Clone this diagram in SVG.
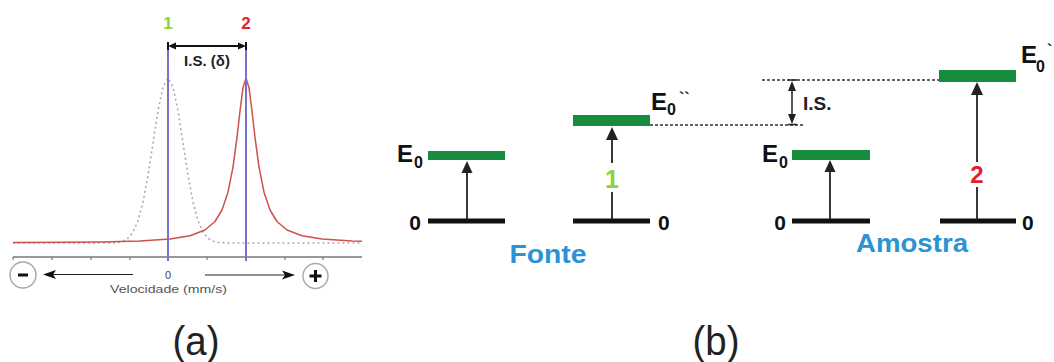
<svg xmlns="http://www.w3.org/2000/svg" width="1054" height="362" viewBox="0 0 1054 362">
<style>
.b{font-family:"Liberation Sans",Arial,sans-serif;font-weight:bold}
.n{font-family:"Liberation Sans",Arial,sans-serif}
.green{fill:#178c3e}
.gnd{stroke:#111;stroke-width:5}
.ar{stroke:#222;stroke-width:1.8;fill:none}
.ah{fill:#222}
.dot{stroke:#333;stroke-width:1.5;stroke-dasharray:3 2;fill:none}
.blue{stroke:#7474cf;stroke-width:2}
.lbl{font-size:21px;fill:#111}
.E{font-size:24px;fill:#111}
.sub{font-size:16px;fill:#111}
.cap{font-size:26px;fill:#2b93d4}
</style>
<rect width="1054" height="362" fill="#fff"/>

<g id="panel-a">
  <g id="axis">
    <line x1="13" y1="257" x2="362" y2="257" stroke="#777" stroke-width="1.5"/>
    <path d="M13 257v3M52 257v3M91 257v3M130 257v3M207 257v3M285 257v3M323 257v3" stroke="#777" stroke-width="1.2"/>
  </g>
  <polyline id="source-line" fill="none" stroke="#aaa" stroke-width="1.6" stroke-dasharray="2 3" stroke-linejoin="round"
    points="13,243 108,243 118,242.4 123,241.2 128,238.3 133,232.2 138,220.7 143,201.9 148,175.2 153,143 158,110.8 163,87 168,78 173,87 178,110.8 183,143 188,175.2 193,201.9 198,220.7 203,232.2 208,238.3 213,241.2 218,242.4 228,243 362,243"/>
  <polyline id="sample-line" fill="none" stroke="#d0504a" stroke-width="1.5" stroke-linejoin="round"
    points="13,242.6 60,242.3 100,241.9 140,240.9 170,239 190,235.8 205,230 215,221.5 222,210 228,192.2 233,167.1 237,137.4 240,111 243,87.7 246,78 249,87.7 252,111 255,137.4 259,167.1 264,192.2 270,210 277,221.5 287,230 302,235.8 322,239 352,240.9 362,241.3"/>
  <line class="blue" x1="168" y1="45" x2="168" y2="261"/>
  <line class="blue" x1="246" y1="45" x2="246" y2="261"/>
  <g id="is-dim">
    <line x1="170" y1="46" x2="244" y2="46" stroke="#111" stroke-width="2"/>
    <path d="M168 46l8-3.5v7zM246 46l-8-3.5v7z" fill="#111"/>
    <path d="M168 42v8M246 42v8" stroke="#111" stroke-width="2"/>
    <text class="b" x="207" y="66" font-size="15" fill="#222" text-anchor="middle">I.S. (δ)</text>
  </g>
  <text class="b" x="168" y="29" font-size="17" fill="#8fd23e" text-anchor="middle">1</text>
  <text class="b" x="246" y="29" font-size="17" fill="#e0202a" text-anchor="middle">2</text>
  <g id="minus">
    <circle cx="23" cy="275" r="13" fill="#fff" stroke="#aaa" stroke-width="1.5"/>
    <rect x="18" y="273.5" width="10" height="3" fill="#111"/>
  </g>
  <g id="plus">
    <circle cx="315.5" cy="276" r="12.5" fill="#fff" stroke="#aaa" stroke-width="1.5"/>
    <path d="M309.5 276h12M315.5 270v12" stroke="#111" stroke-width="3"/>
  </g>
  <line x1="52" y1="274.5" x2="133" y2="274.5" stroke="#222" stroke-width="1.2"/>
  <path d="M43 274.5l13-4.5-3 4.5 3 4.5z" fill="#111"/>
  <line x1="205" y1="275" x2="286" y2="275" stroke="#222" stroke-width="1.2"/>
  <path d="M295 275l-13-4.5 3 4.5-3 4.5z" fill="#111"/>
  <text class="n" x="168" y="279" font-size="11" fill="#444" text-anchor="middle">0</text>
  <text class="n" x="110" y="293" font-size="10" fill="#555" textLength="117" lengthAdjust="spacingAndGlyphs">Velocidade (mm/s)</text>
  <text class="n" x="196" y="355" font-size="40" fill="#222" text-anchor="middle" textLength="47" lengthAdjust="spacingAndGlyphs">(a)</text>
</g>

<g id="panel-b">
  <g id="fonte-left">
    <rect class="green" x="428" y="151" width="77" height="9"/>
    <text class="b E" x="397" y="162">E</text>
    <text class="b sub" x="414" y="168">0</text>
    <line class="gnd" x1="428" y1="221" x2="505" y2="221"/>
    <text class="b lbl" x="421" y="230" text-anchor="end">0</text>
    <line class="ar" x1="467" y1="219" x2="467" y2="171"/>
    <path class="ah" d="M467 161l5.5 12h-11z"/>
  </g>
  <g id="fonte-right">
    <rect class="green" x="573" y="115" width="77" height="11"/>
    <text class="b E" x="651" y="110">E</text>
    <text class="b sub" x="667" y="115">0</text>
    <text class="b sub" x="679" y="104">``</text>
    <line class="gnd" x1="573" y1="221" x2="650" y2="221"/>
    <text class="b lbl" x="658" y="230">0</text>
    <line class="ar" x1="612" y1="138" x2="612" y2="163"/>
    <line class="ar" x1="612" y1="192" x2="612" y2="219"/>
    <path class="ah" d="M612 127l6 13h-12z"/>
    <text class="b" x="612" y="188" font-size="25" fill="#8fd23e" text-anchor="middle">1</text>
  </g>
  <text class="b cap" x="548" y="263" text-anchor="middle" textLength="77" lengthAdjust="spacingAndGlyphs">Fonte</text>

  <g id="connectors">
    <line class="dot" x1="650" y1="125" x2="805" y2="125"/>
    <line class="dot" x1="762" y1="80" x2="940" y2="80"/>
    <line x1="792" y1="84" x2="792" y2="121" stroke="#222" stroke-width="1.5"/>
    <path d="M792 81l4 10h-8zM792 124l4-10h-8z" fill="#222"/>
    <path d="M788 80h9M788 124.5h9" stroke="#222" stroke-width="1.5"/>
    <text class="b" x="803" y="110" font-size="19" fill="#222">I.S.</text>
  </g>

  <g id="amostra-left">
    <rect class="green" x="792" y="150" width="78" height="10"/>
    <text class="b E" x="762" y="162">E</text>
    <text class="b sub" x="779" y="168">0</text>
    <line class="gnd" x1="792" y1="221" x2="870" y2="221"/>
    <text class="b lbl" x="786" y="230" text-anchor="end">0</text>
    <line class="ar" x1="830" y1="219" x2="830" y2="170"/>
    <path class="ah" d="M830 160l5.5 12h-11z"/>
  </g>
  <g id="amostra-right">
    <rect class="green" x="939" y="70" width="77" height="12"/>
    <text class="b E" x="1021" y="63">E</text>
    <text class="b sub" x="1036" y="72">0</text>
    <text class="b sub" x="1047" y="56">`</text>
    <line class="gnd" x1="940" y1="221" x2="1016" y2="221"/>
    <text class="b lbl" x="1022" y="230">0</text>
    <line class="ar" x1="977" y1="93" x2="977" y2="162"/>
    <line class="ar" x1="977" y1="187" x2="977" y2="219"/>
    <path class="ah" d="M977 82l6 13h-12z"/>
    <text class="b" x="977" y="183" font-size="24" fill="#e0202a" text-anchor="middle">2</text>
  </g>
  <text class="b cap" x="912" y="252" text-anchor="middle" textLength="112" lengthAdjust="spacingAndGlyphs">Amostra</text>
  <text class="n" x="716" y="355" font-size="40" fill="#222" text-anchor="middle" textLength="47" lengthAdjust="spacingAndGlyphs">(b)</text>
</g>
</svg>
